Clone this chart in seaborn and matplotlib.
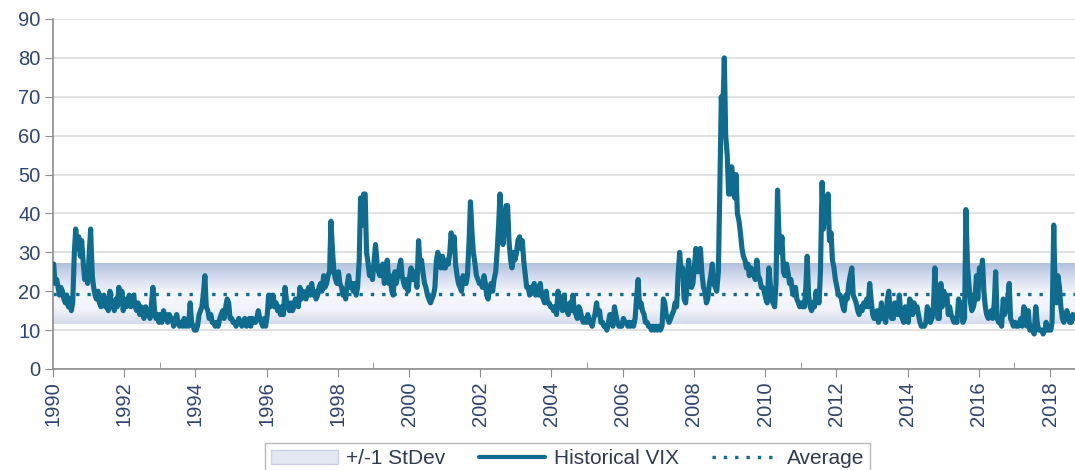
import numpy as np
import pandas as pd
import matplotlib
matplotlib.use("Agg")
import matplotlib.pyplot as plt
import matplotlib.dates as mdates
from matplotlib.colors import LinearSegmentedColormap
from matplotlib.patches import Patch
from matplotlib.lines import Line2D
import seaborn as sns

# VIX, two readings per month (around the 8th and the 22nd)
vix_1990 = [27, 22, 23, 21, 19, 21, 20, 18, 17, 19, 16, 18, 15, 17, 30, 36, 31, 34, 29, 33, 27, 23, 25, 22]
vix_1991 = [30, 36, 24, 21, 19, 18, 20, 17, 16, 18, 19, 16, 17, 15, 20, 16, 17, 15, 18, 16, 21, 17, 20, 15]
vix_1992 = [18, 16, 17, 19, 16, 18, 19, 16, 15, 17, 14, 16, 15, 13, 16, 14, 15, 13, 17, 21, 15, 13, 14, 12]
vix_1993 = [14, 12, 15, 13, 14, 12, 14, 13, 13, 11, 12, 14, 12, 11, 12, 11, 13, 11, 12, 11, 17, 12, 11, 10]
vix_1994 = [10, 11, 14, 15, 16, 19, 24, 16, 15, 13, 14, 12, 12, 11, 12, 11, 13, 14, 15, 13, 16, 18, 17, 13]
vix_1995 = [13, 12, 12, 11, 12, 13, 12, 11, 12, 13, 11, 12, 13, 11, 13, 12, 12, 13, 15, 13, 12, 11, 13, 11]
vix_1996 = [14, 19, 16, 17, 19, 16, 17, 15, 16, 14, 16, 14, 21, 18, 16, 15, 17, 15, 16, 18, 17, 16, 21, 18]
vix_1997 = [20, 19, 18, 20, 21, 19, 22, 19, 20, 18, 19, 21, 22, 20, 24, 21, 22, 24, 25, 38, 30, 25, 23, 22]
vix_1998 = [25, 22, 21, 19, 20, 18, 22, 24, 21, 22, 20, 22, 19, 21, 28, 44, 37, 45, 45, 30, 27, 24, 26, 23]
vix_1999 = [28, 32, 27, 25, 24, 26, 27, 22, 24, 28, 22, 24, 20, 19, 25, 22, 24, 26, 28, 24, 22, 21, 23, 20]
vix_2000 = [24, 26, 23, 25, 24, 21, 33, 27, 28, 25, 22, 21, 19, 18, 17, 18, 19, 21, 28, 30, 28, 26, 29, 26]
vix_2001 = [26, 28, 27, 30, 35, 31, 34, 27, 24, 22, 21, 20, 24, 22, 22, 24, 33, 43, 35, 30, 27, 24, 23, 22]
vix_2002 = [22, 21, 24, 22, 19, 18, 21, 22, 20, 23, 25, 30, 37, 45, 35, 32, 38, 42, 42, 33, 28, 26, 30, 28]
vix_2003 = [30, 33, 34, 31, 33, 28, 24, 21, 21, 19, 21, 20, 22, 19, 21, 19, 22, 19, 18, 17, 20, 17, 17, 16]
vix_2004 = [16, 15, 16, 14, 20, 18, 17, 15, 19, 16, 15, 14, 17, 15, 19, 15, 14, 13, 16, 15, 13, 12, 13, 12]
vix_2005 = [14, 12, 12, 11, 13, 14, 17, 14, 15, 12, 12, 11, 11, 10, 12, 14, 12, 11, 16, 14, 12, 11, 11, 11]
vix_2006 = [13, 12, 12, 11, 12, 11, 12, 11, 13, 18, 23, 16, 17, 15, 14, 12, 12, 11, 11, 10, 11, 10, 11, 10]
vix_2007 = [11, 10, 11, 18, 17, 14, 13, 12, 13, 14, 15, 17, 16, 24, 30, 25, 26, 18, 17, 21, 28, 23, 21, 22]
vix_2008 = [27, 31, 25, 28, 31, 25, 21, 20, 17, 18, 22, 24, 27, 22, 21, 20, 25, 45, 70, 65, 80, 60, 55, 45]
vix_2009 = [45, 52, 48, 44, 50, 40, 38, 35, 31, 29, 28, 26, 27, 24, 26, 25, 24, 23, 28, 24, 23, 21, 21, 20]
vix_2010 = [18, 17, 26, 22, 18, 17, 16, 22, 46, 35, 30, 34, 25, 24, 27, 25, 22, 23, 20, 19, 21, 18, 17, 16]
vix_2011 = [17, 16, 16, 21, 29, 19, 16, 15, 17, 16, 20, 18, 17, 25, 48, 36, 42, 38, 45, 33, 35, 28, 26, 23]
vix_2012 = [21, 19, 19, 18, 16, 15, 19, 18, 22, 24, 26, 19, 18, 17, 15, 14, 16, 15, 17, 16, 18, 16, 22, 18]
vix_2013 = [14, 13, 13, 15, 12, 13, 17, 13, 13, 12, 18, 20, 14, 13, 13, 17, 16, 14, 19, 14, 13, 12, 16, 13]
vix_2014 = [12, 18, 17, 14, 17, 15, 16, 14, 12, 11, 11, 11, 12, 16, 15, 12, 13, 15, 26, 17, 13, 13, 22, 16]
vix_2015 = [20, 17, 19, 14, 16, 14, 13, 12, 13, 12, 18, 14, 17, 12, 13, 41, 26, 22, 17, 15, 16, 18, 24, 18]
vix_2016 = [26, 23, 28, 20, 16, 14, 13, 14, 15, 13, 17, 25, 13, 12, 12, 11, 18, 14, 16, 17, 22, 13, 12, 11]
vix_2017 = [12, 11, 11, 12, 13, 11, 16, 14, 11, 15, 10, 11, 10, 9, 16, 12, 10, 10, 10, 9, 10, 12, 10, 10]
vix_2018 = [10, 12, 37, 20, 17, 24, 21, 16, 13, 12, 13, 15, 13, 12, 12, 14, 13]

avg_vix = 19.4
band_lo = 11.6
band_hi = 27.2

years = list(range(1990, 2019))
series = [vix_1990, vix_1991, vix_1992, vix_1993, vix_1994, vix_1995, vix_1996,
          vix_1997, vix_1998, vix_1999, vix_2000, vix_2001, vix_2002, vix_2003,
          vix_2004, vix_2005, vix_2006, vix_2007, vix_2008, vix_2009, vix_2010,
          vix_2011, vix_2012, vix_2013, vix_2014, vix_2015, vix_2016, vix_2017,
          vix_2018]

rows = []
for year, vals in zip(years, series):
    for i, v in enumerate(vals):
        rows.append((pd.Timestamp(year, i // 2 + 1, 8 if i % 2 == 0 else 22), v))
df = pd.DataFrame(rows, columns=["date", "vix"])

line_color = "#106c8e"
tick_color = "#2f4470"
axis_color = "#8c8c8c"

sns.set_style("white")
plt.rcParams["font.family"] = ["Liberation Sans", "DejaVu Sans"]

fig = plt.figure(figsize=(10.75, 4.7), dpi=100)
ax = fig.add_axes([53 / 1075, 101 / 470, 1022 / 1075, 350 / 470])

x0, x1 = pd.Timestamp("1990-01-01"), pd.Timestamp("2018-09-14")

sns.lineplot(data=df, x="date", y="vix", color=line_color, lw=3.7,
             ax=ax, zorder=3, legend=False)

# +/-1 stdev band, darker at the edges
band_cmap = LinearSegmentedColormap.from_list(
    "band", ["#b3c1db", "#d7def0", "#f6f7fb", "#f2f4f9", "#d4dbeb"])
grad = np.linspace(0, 1, 200).reshape(-1, 1)
ax.imshow(grad, cmap=band_cmap, aspect="auto", origin="upper", zorder=1,
          extent=[mdates.date2num(x0), mdates.date2num(x1), band_lo, band_hi])

ax.axhline(avg_vix, color=line_color, lw=2.4, linestyle=(0, (1, 2.4)), zorder=2)

ax.set_xlim(x0, x1)
ax.set_ylim(0, 90)
ax.set_yticks(range(0, 100, 10))
ax.set_xticks([pd.Timestamp(y, 1, 1) for y in range(1990, 2019, 2)])
ax.set_xticklabels([str(y) for y in range(1990, 2019, 2)], rotation=90)
ax.set_xticks([pd.Timestamp(y, 1, 1) for y in (1993, 1999, 2005, 2011, 2017)], minor=True)
ax.set_xlabel("")
ax.set_ylabel("")

ax.set_axisbelow(True)
ax.yaxis.grid(True, color="#dcdcdc", lw=1.2)
ax.xaxis.grid(False)

ax.tick_params(axis="x", which="major", bottom=True, direction="out", length=6,
               color=axis_color, labelsize=14.5, labelcolor=tick_color, pad=3)
ax.tick_params(axis="x", which="minor", bottom=True, direction="in", length=5,
               color=axis_color)
ax.tick_params(axis="y", left=True, direction="out", length=6, color=axis_color,
               labelsize=14.5, labelcolor=tick_color, pad=3)

for side in ["top", "right"]:
    ax.spines[side].set_visible(False)
for side in ["left", "bottom"]:
    ax.spines[side].set_color(axis_color)
    ax.spines[side].set_linewidth(1.2)

handles = [
    Patch(facecolor="#e3e8f2", edgecolor="#c8d2e6", label="+/-1 StDev"),
    Line2D([], [], color=line_color, lw=3.0, label="Historical VIX"),
    Line2D([], [], color=line_color, lw=2.4, ls=(0, (1, 2.4)), label="Average"),
]
leg = fig.legend(handles=handles, loc="upper center", bbox_to_anchor=(0.528, 1 - 443 / 470),
                 ncol=3, frameon=True, fancybox=False, edgecolor="#a6a6a6",
                 fontsize=15, handlelength=3.2, columnspacing=1.6,
                 borderpad=0.3, handletextpad=0.4, borderaxespad=0)
leg.get_frame().set_linewidth(1.0)
for t in leg.get_texts():
    t.set_color("#2f3b52")

fig.savefig("out.png", dpi=100)
plt.close(fig)
